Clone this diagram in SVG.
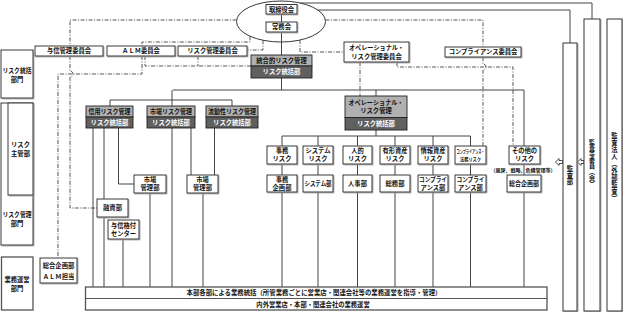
<svg xmlns="http://www.w3.org/2000/svg" width="623" height="312" viewBox="0 0 623 312">
<style>
.t{font-family:"Noto Sans CJK JP","Noto Sans CJK SC",sans-serif;font-size:6.3px;font-weight:bold;text-anchor:middle;fill:#111}
.w{fill:#fff}
.sm{font-size:5px}
.v{writing-mode:vertical-rl;text-orientation:mixed}
.b{fill:#fff;stroke:#222;stroke-width:0.9;filter:url(#sh)}
.g{fill:#b0b0b0;stroke:#222;stroke-width:0.9}
.d{fill:#606060;stroke:#222;stroke-width:0.9}
.bar{fill:#fff;stroke:#333;stroke-width:1;filter:url(#sh)}
.band{fill:#fff;stroke:#555;stroke-width:1.3}
.ln{fill:none;stroke:#444;stroke-width:1}
.dd{fill:none;stroke:#444;stroke-width:0.9;stroke-dasharray:4 1.5 1 1.5}
.ar{fill:#fff;stroke:#222;stroke-width:0.8}
</style>
<defs>
<filter id="sh" x="-10%" y="-10%" width="130%" height="130%"><feDropShadow dx="0.8" dy="0.8" stdDeviation="0.2" flood-color="#999"/></filter>
</defs>
<rect width="623" height="312" fill="#fff"/>
<g id="board-ellipse"><ellipse cx="281" cy="21.5" rx="44.5" ry="20.5" fill="#fff" stroke="#222" stroke-width="0.9"/></g>
<g id="connectors">
<path class="ln" d="M300.2 3H592V19M317.8 10H570V43M281.5 14V22M281.5 32V55M281.5 78V90M173 90H524V146M172 90V106M110 106V100H232V106M376 90V96M376 130V136M282 136H470.5M282 136V287M318 136V287M357.5 136V287M395 136V287M433 136V287M470.5 136V287M524 146V287M93 128V287M104 128V287M118.5 128V184H134M123 239V287M172 128V287M191 128V175M214.5 128V175M150 193V287M203 193V287"/>
<path class="dd" d="M236.6 20H70V46M70 56V71A3 3 0 0 1 70 77V208H97M250 36.2V42H142V46M142 56V74H58V258M145 56V66H251M198 56V66M263 40.3V50H247M300 40V52H344M325.4 20H483V47M483 57V64A3 3 0 0 1 483 70V147M397 62V67H513V146M360 62V96"/>
<polygon class="ar" points="555.5,162 559,158.5 559,160.5 562.5,160.5 562.5,163.5 559,163.5 559,165.5"/>
<polygon class="ar" points="577.5,162 581,158.5 581,160.5 584,160.5 584,163.5 581,163.5 581,165.5"/>
</g>
<g id="torishimariyakukai"><rect class="b" x="266" y="4.5" width="31" height="9.5"/><text class="t" x="281.5" y="11.6">取締役会</text></g>
<g id="jomukai"><rect class="b" x="266" y="22" width="31" height="10"/><text class="t" x="281.5" y="29.3">常務会</text></g>
<g id="yoshin-iinkai"><rect class="b" x="35" y="46" width="68" height="10"/><text class="t" x="69" y="53.3">与信管理委員会</text></g>
<g id="alm-iinkai"><rect class="b" x="107" y="46" width="68" height="10"/><text class="t" x="141" y="53.3">ＡＬＭ委員会</text></g>
<g id="risk-iinkai"><rect class="b" x="178" y="46" width="69" height="10"/><text class="t" x="212.5" y="53.3">リスク管理委員会</text></g>
<g id="op-iinkai"><rect class="b" x="344" y="42" width="65" height="20"/><text class="t" x="376.5" y="50" textLength="55" lengthAdjust="spacingAndGlyphs">オペレーショナル・</text><text class="t" x="376.5" y="59">リスク管理委員会</text></g>
<g id="comp-iinkai"><rect class="b" x="445" y="47" width="76" height="10"/><text class="t" x="483" y="54.3">コンプライアンス委員会</text></g>
<g id="togo"><rect class="g" x="251" y="55" width="61" height="11"/><rect class="d" x="251" y="66" width="61" height="12"/><text class="t" x="281.5" y="62.8">統合的リスク管理</text><text class="t w" x="281.5" y="74.3">リスク統括部</text></g>
<g id="shinyo"><rect class="g" x="86" y="106" width="47" height="11"/><rect class="d" x="86" y="117" width="47" height="11"/><text class="t" x="109.5" y="113.8" textLength="42" lengthAdjust="spacingAndGlyphs">信用リスク管理</text><text class="t w" x="109.5" y="124.8">リスク統括部</text></g>
<g id="shijo"><rect class="g" x="147" y="106" width="48" height="11"/><rect class="d" x="147" y="117" width="48" height="11"/><text class="t" x="171" y="113.8" textLength="42" lengthAdjust="spacingAndGlyphs">市場リスク管理</text><text class="t w" x="171" y="124.8">リスク統括部</text></g>
<g id="ryudosei"><rect class="g" x="206" y="106" width="52" height="11"/><rect class="d" x="206" y="117" width="52" height="11"/><text class="t" x="232" y="113.8" textLength="48" lengthAdjust="spacingAndGlyphs">流動性リスク管理</text><text class="t w" x="232" y="124.8">リスク統括部</text></g>
<g id="op-kanri"><rect class="g" x="345" y="96" width="62" height="21.5"/><rect class="d" x="345" y="117.5" width="62" height="12.5"/><text class="t" x="376" y="104.5" textLength="55" lengthAdjust="spacingAndGlyphs">オペレーショナル・</text><text class="t" x="376" y="113">リスク管理</text><text class="t w" x="376" y="126">リスク統括部</text></g>
<g id="jimu-risk"><rect class="b" x="267" y="146" width="30" height="18"/><text class="t" x="282" y="153.3">事務</text><text class="t" x="282" y="161.3">リスク</text></g>
<g id="system-risk"><rect class="b" x="303" y="146" width="30" height="18"/><text class="t" x="318" y="153.3">システム</text><text class="t" x="318" y="161.3">リスク</text></g>
<g id="jinteki-risk"><rect class="b" x="343" y="146" width="29" height="18"/><text class="t" x="357.5" y="153.3">人的</text><text class="t" x="357.5" y="161.3">リスク</text></g>
<g id="yukei-risk"><rect class="b" x="380" y="146" width="30" height="18"/><text class="t" x="395" y="153.3">有形資産</text><text class="t" x="395" y="161.3">リスク</text></g>
<g id="joho-risk"><rect class="b" x="418" y="146" width="30" height="18"/><text class="t" x="433" y="153.3">情報資産</text><text class="t" x="433" y="161.3">リスク</text></g>
<g id="comp-risk"><rect class="b" x="455" y="146" width="31" height="18"/><text class="t sm" x="470.5" y="153" textLength="28" lengthAdjust="spacingAndGlyphs">コンプライアンス・</text><text class="t sm" x="470.5" y="161" textLength="21" lengthAdjust="spacingAndGlyphs">法務リスク</text></g>
<g id="sonota-risk"><rect class="b" x="509" y="146" width="31" height="18"/><text class="t" x="524.5" y="153.3">その他の</text><text class="t" x="524.5" y="161.3">リスク</text><text class="t sm" x="523" y="171.5">（風評、戦略、危機管理等）</text></g>
<g id="jimu-kikaku"><rect class="b" x="267" y="175" width="30" height="17"/><text class="t" x="282" y="181.8">事務</text><text class="t" x="282" y="189.8">企画部</text></g>
<g id="system-bu"><rect class="b" x="303" y="175" width="30" height="17"/><text class="t" x="318" y="185.8" textLength="27" lengthAdjust="spacingAndGlyphs">システム部</text></g>
<g id="jinji-bu"><rect class="b" x="343" y="175" width="29" height="17"/><text class="t" x="357.5" y="185.8">人事部</text></g>
<g id="somu-bu"><rect class="b" x="380" y="175" width="30" height="17"/><text class="t" x="395" y="185.8">総務部</text></g>
<g id="comp-bu1"><rect class="b" x="418" y="175" width="30" height="17"/><text class="t" x="433" y="181.8" textLength="28" lengthAdjust="spacingAndGlyphs">コンプライ</text><text class="t" x="433" y="189.8">アンス部</text></g>
<g id="comp-bu2"><rect class="b" x="455" y="175" width="31" height="17"/><text class="t" x="470.5" y="181.8" textLength="28" lengthAdjust="spacingAndGlyphs">コンプライ</text><text class="t" x="470.5" y="189.8">アンス部</text></g>
<g id="sogo-kikaku"><rect class="b" x="507" y="175" width="34" height="17"/><text class="t" x="524" y="185.8" textLength="30" lengthAdjust="spacingAndGlyphs">総合企画部</text></g>
<g id="shijo-kanri1"><rect class="b" x="134" y="175" width="32" height="18"/><text class="t" x="150" y="182.3">市場</text><text class="t" x="150" y="190.3">管理部</text></g>
<g id="shijo-kanri2"><rect class="b" x="187" y="175" width="31" height="18"/><text class="t" x="202.5" y="182.3">市場</text><text class="t" x="202.5" y="190.3">管理部</text></g>
<g id="yushi-bu"><rect class="b" x="97" y="199" width="31" height="18"/><text class="t" x="112.5" y="210.3">融資部</text></g>
<g id="kakuzuke"><rect class="b" x="108" y="220" width="31" height="19"/><text class="t" x="123.5" y="227.8">与信格付</text><text class="t" x="123.5" y="236">センター</text></g>
<g id="alm-tanto"><rect class="b" x="40" y="258" width="37" height="25"/><text class="t" x="58.5" y="267.5">総合企画部</text><text class="t" x="58.5" y="278.5">ＡＬＭ担当</text></g>
<g id="left-tokatsu"><rect class="b" x="1" y="50" width="32" height="48"/><text class="t" x="17" y="73" textLength="29" lengthAdjust="spacingAndGlyphs">リスク統括</text><text class="t" x="17" y="81.5">部門</text></g>
<g id="left-kanri"><rect class="b" x="1" y="103" width="32" height="142"/><text class="t" x="17" y="217" textLength="29" lengthAdjust="spacingAndGlyphs">リスク管理</text><text class="t" x="17" y="225.5">部門</text></g>
<g id="left-shukan"><rect class="b" x="8" y="103" width="25" height="92"/><text class="t" x="20.5" y="147">リスク</text><text class="t" x="20.5" y="155.5">主管部</text></g>
<g id="left-gyomu"><rect class="band" x="1.5" y="257" width="31.5" height="53"/><text class="t" x="17" y="282">業務運営</text><text class="t" x="17" y="290.5">部門</text></g>
<g id="bottom-band"><rect class="band" x="85.5" y="287" width="461.5" height="23"/><line x1="85.5" y1="298.5" x2="547" y2="298.5" stroke="#555" stroke-width="1"/><text class="t" x="314" y="295.2" textLength="255" lengthAdjust="spacingAndGlyphs">本部各部による業務統括（所管業務ごとに営業店・関連会社等の業務運営を指導・管理）</text><text class="t" x="313" y="306.5">内外営業店・本部・関連会社の業務運営</text></g>
<g id="kansabu"><rect class="bar" x="563" y="43" width="14" height="268"/><text class="t v" x="570" y="175.5" style="letter-spacing:0.3px">監査部</text></g>
<g id="kansatou"><rect class="bar" x="584" y="19" width="16" height="292"/><text class="t v" x="592" y="162.5" style="font-size:6px">監査等委員（会）</text></g>
<g id="kansahojin"><rect class="bar" x="607" y="19" width="15" height="292"/><text class="t v" x="614.5" y="167" style="letter-spacing:0.7px">監査法人（外部監査）</text></g>
</svg>
